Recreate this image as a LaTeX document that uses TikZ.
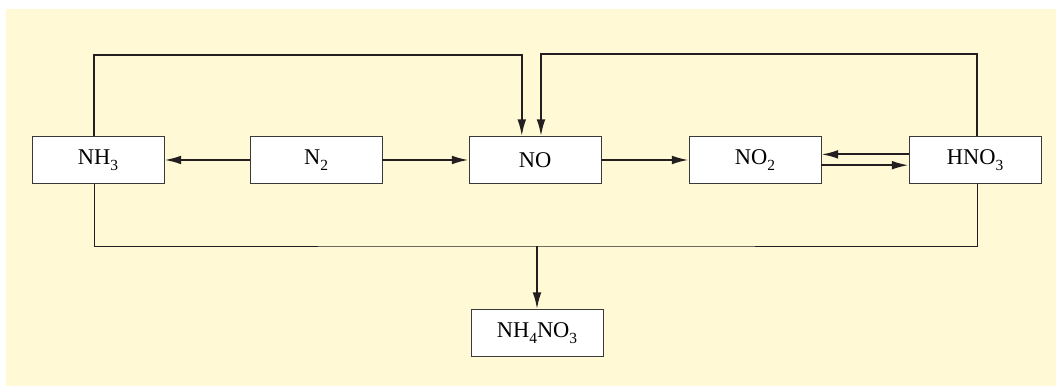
\documentclass[tikz,border=0pt]{standalone}
\usepackage{fontspec}
\setmainfont{Liberation Serif}
\usepackage{xcolor}
\definecolor{paper}{HTML}{FFF9D6}
\definecolor{ink}{HTML}{231F20}
\definecolor{frame}{HTML}{3A3A3A}
\usepackage{tikz}
\usetikzlibrary{arrows.meta}
% low, small index for formulas
\newcommand{\ix}[1]{\raisebox{-0.55ex}{\fontsize{11}{12}\selectfont #1}}

\begin{document}
\begin{tikzpicture}[
  font=\fontsize{16}{19}\selectfont,
  every node/.style={align=center},
  chem/.style={draw=frame,fill=white,line width=0.6pt,minimum width=3.3cm,
    minimum height=1.175cm,inner sep=0pt},
  e/.style={-{Latex[length=4.2mm,width=2.2mm]},ink,line width=1.4pt},
  bus/.style={ink,line width=0.7pt}]

\useasboundingbox (0,0) rectangle (26.4,9.65);
\fill[paper] (0.15,0) rectangle (26.4,9.425);

% --- nitrogen compounds, one row ---
\node[chem] (nh3)  at (2.45,5.65)   {NH\ix{3}};
\node[chem] (n2)   at (7.9,5.65)    {N\ix{2}};
\node[chem] (no)   at (13.375,5.65) {NO};
\node[chem] (no2)  at (18.875,5.65) {NO\ix{2}};
\node[chem] (hno3) at (24.375,5.65) {HNO\ix{3}};

% --- product (bottom) ---
\node[chem] (salt) at (13.425,1.325) {NH\ix{4}NO\ix{3}};
\coordinate (tee) at (13.425,3.5);

% edges along the row
\draw[e] (n2) -- (nh3);
\draw[e] (n2) -- (no);
\draw[e] (no) -- (no2);
\draw[e] ([yshift=1.4mm]hno3.west) -- ([yshift=1.4mm]no2.east);
\draw[e] ([yshift=-1.3mm]no2.east) -- ([yshift=-1.3mm]hno3.west);
% loops back into NO
\draw[e] ([xshift=-1mm]nh3.north) -- ++(0,2.02) -| ([xshift=-3.3mm]no.north);
\draw[e] ([xshift=0.5mm]hno3.north) -- ++(0,2.06) -| ([xshift=1.5mm]no.north);
% ammonium nitrate
\draw[bus] ([xshift=-1mm]nh3.south) |- (tee) -| ([xshift=0.5mm]hno3.south);
\draw[e] (tee) -- (salt);
\end{tikzpicture}
\end{document}
